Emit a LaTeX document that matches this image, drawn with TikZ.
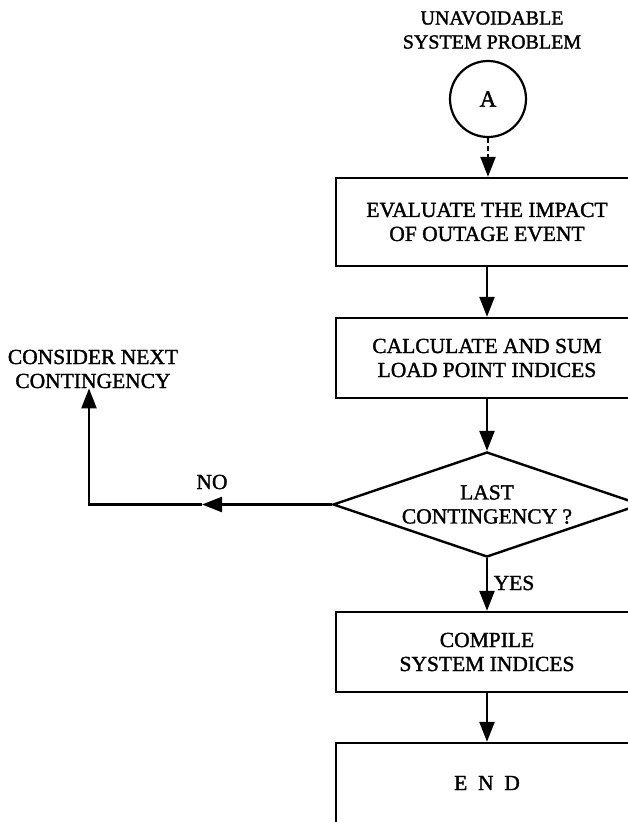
\documentclass[tikz,border=0pt]{standalone}
\usepackage{fontspec}
\usetikzlibrary{arrows.meta,shapes.geometric}
\newfontfamily\heavyserif{Liberation Serif}[FakeBold=1.5]
\newcommand\flowtxt{\heavyserif\fontsize{21.5}{24}\selectfont}
\newcommand\titletxt{\heavyserif\fontsize{20}{24}\selectfont}
\newcommand\connlabel{\heavyserif\fontsize{23}{25}\selectfont}

\begin{document}
\begin{tikzpicture}[x=1pt,y=-1pt,
  every node/.style={font=\flowtxt, align=center, inner sep=0pt},
  procbox/.style={draw, line width=2.4pt, minimum width=302pt},
  decision/.style={draw, diamond, aspect=3, line width=2.4pt,
                   minimum width=308pt, minimum height=105pt},
  connector/.style={draw, circle, line width=2.2pt, minimum size=76pt, font=\connlabel},
  flow/.style={line width=2.4pt, -{Triangle[length=20pt,width=15pt]}},
  dashflow/.style={flow, dash pattern=on 5pt off 3pt}]
\useasboundingbox (0,0) rectangle (627,822);

% entry connector and its caption
\node[font=\titletxt] (title) at (492,30) {UNAVOIDABLE\\SYSTEM PROBLEM};
\node[connector] (A) at (488,99) {A};

% main column
\node[procbox, minimum height=88pt] (eval) at (487,222) {EVALUATE THE IMPACT\\OF OUTAGE EVENT};
\node[procbox, minimum height=80pt] (calc) at (487,358) {CALCULATE AND SUM\\LOAD POINT INDICES};
\node[decision] (last) at (487,504.5) {LAST\\CONTINGENCY ?};
\node[procbox, minimum height=80pt] (comp) at (487,652) {COMPILE\\SYSTEM INDICES};
\node[procbox, minimum height=80pt] (end) at (487,783) {E\hspace{0.5em}N\hspace{0.5em}D};

% loop-back target
\node (next) at (93,369) {CONSIDER NEXT\\CONTINGENCY};

% branch labels
\node (no) at (212,482) {NO};
\node (yes) at (514,583) {YES};

% connectors
\draw[dashflow] (A.south) -- (A.south |- eval.north);
\draw[flow] (eval) -- (calc);
\draw[flow] (calc) -- (last);
\draw[flow] (last) -- (comp);
\draw[flow] (comp) -- (end);

\coordinate (noTip) at (202,0 |- last.west);
\coordinate (turn) at (89,0 |- last.west);
\draw[flow] (last.west) -- (noTip);
\draw[flow] (noTip) -- (turn) -- (turn |- next.south);
\end{tikzpicture}
\end{document}
